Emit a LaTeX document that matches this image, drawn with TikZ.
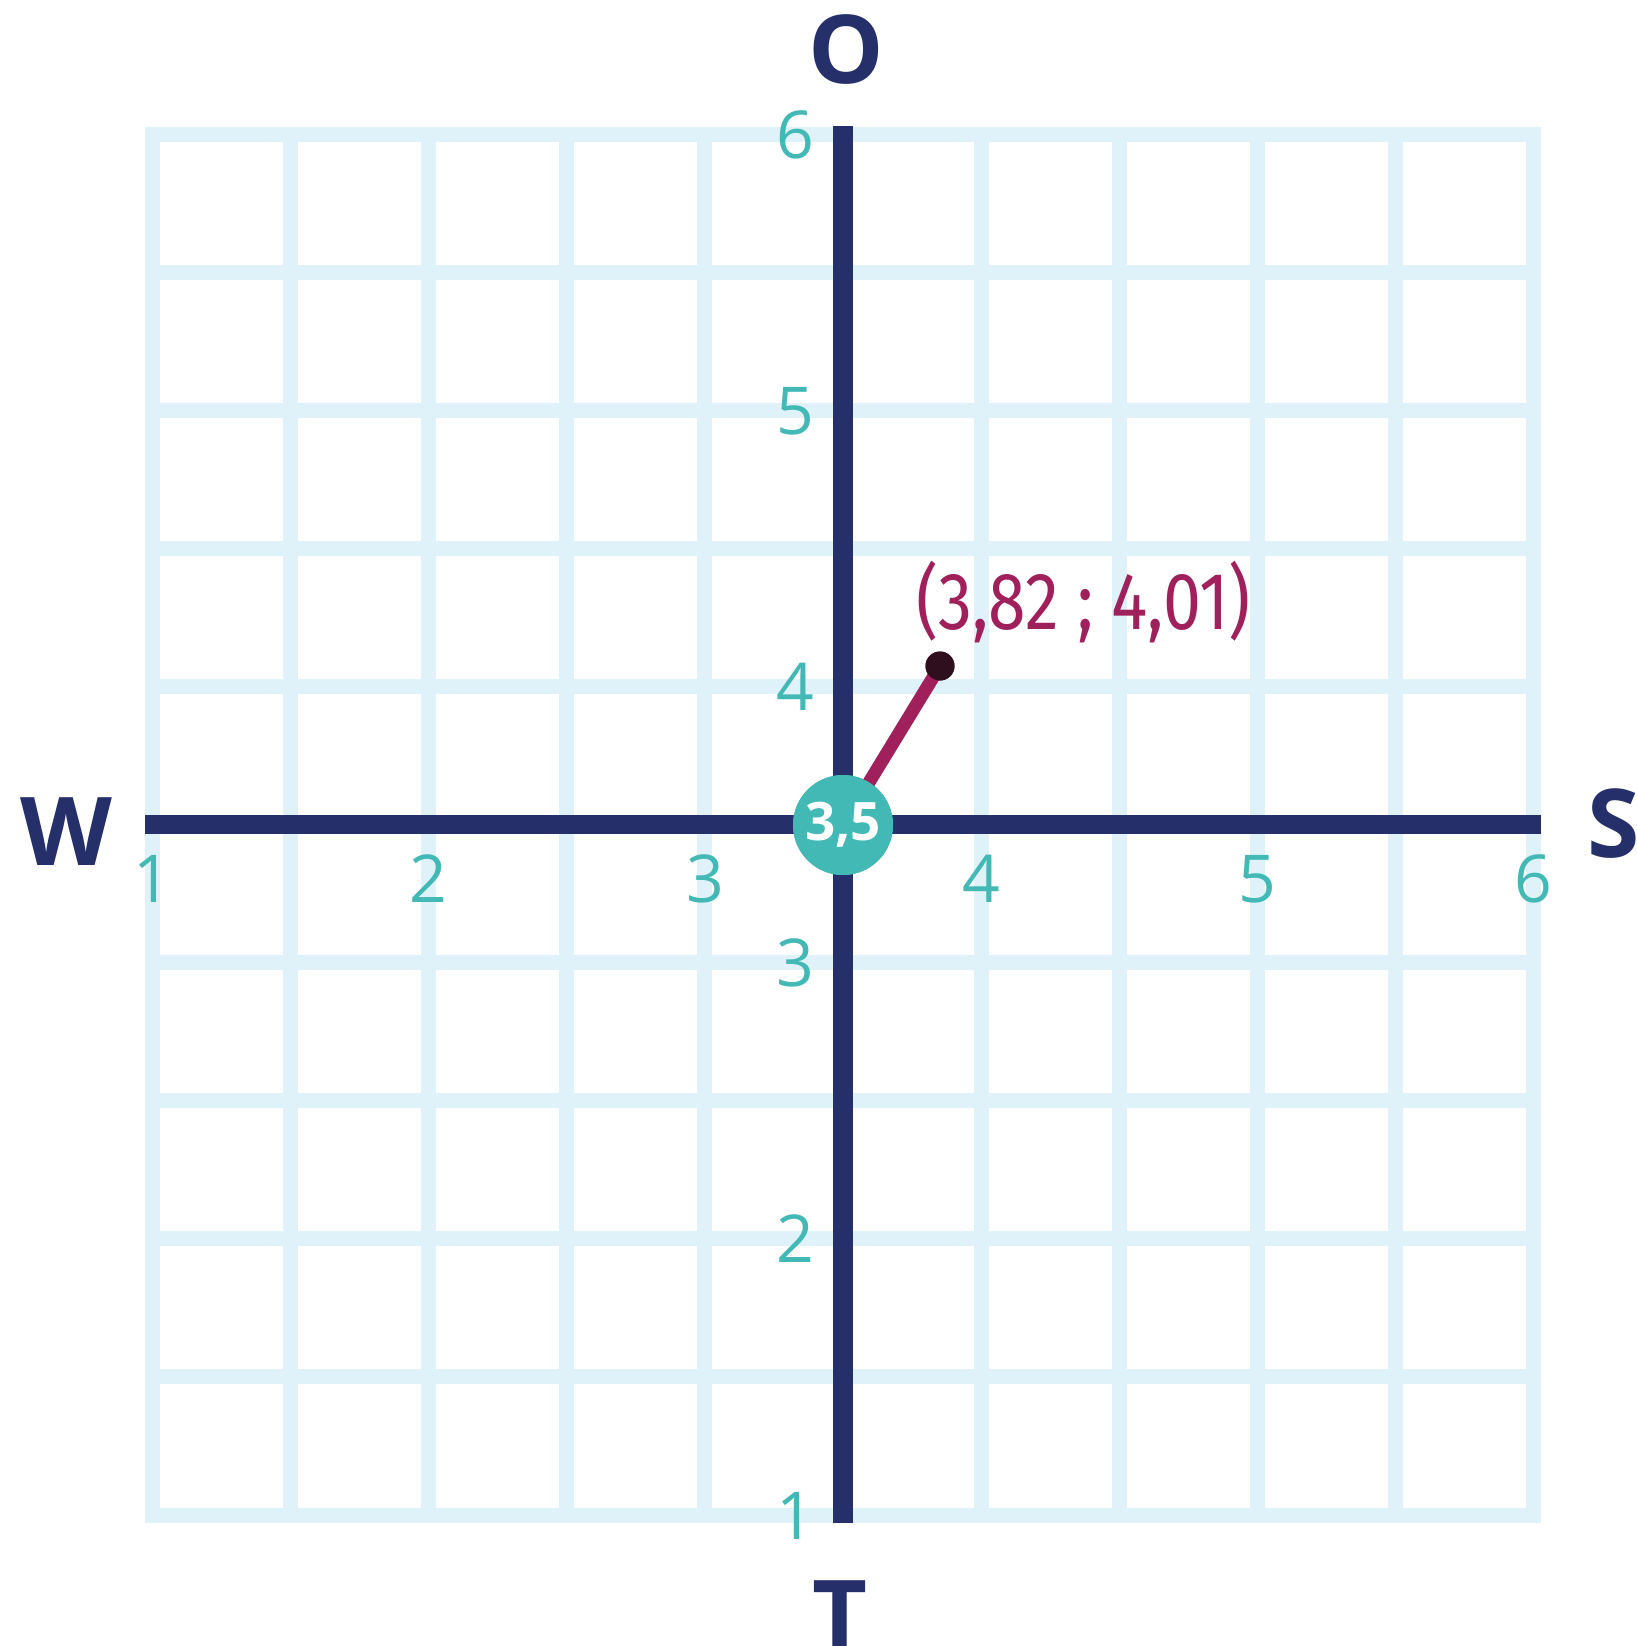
\documentclass[tikz,border=0pt]{standalone}
\usepackage{fontspec}
\setmainfont{Open Sans}
\newfontfamily\labfont[FakeStretch=0.84]{Fira Sans}
\definecolor{navy}{RGB}{37,48,106}
\definecolor{tealc}{RGB}{67,185,182}
\definecolor{gridc}{RGB}{223,242,249}
\definecolor{mag}{RGB}{160,32,92}
\definecolor{dotc}{RGB}{47,15,30}
\tikzset{
  gridline/.style={draw=gridc, line width=15pt},
  axis/.style={draw=navy, line width=19.5pt},
  tick/.style={text=tealc, font=\fontsize{66}{66}\selectfont, inner sep=0pt},
  dirlab/.style={text=navy, font=\fontsize{95}{95}\selectfont\bfseries, inner sep=0pt},
}
\begin{document}
\begin{tikzpicture}[x=1pt,y=-1pt]
\useasboundingbox[fill=white] (0,0) rectangle (1636,1646);
% grid
\foreach \i in {0,...,10}{
  \draw[gridline] ({152.5+138.1*\i},126.5) -- ({152.5+138.1*\i},1522.5);
  \draw[gridline] (145,{134+138.1*\i}) -- (1541,{134+138.1*\i});
}
% axes
\coordinate (wl) at (145,824.5);
\coordinate (sr) at (1541,824.5);
\coordinate (ot) at (843,126);
\coordinate (tb) at (843,1523);
\draw[axis] (wl) -- (sr);
\draw[axis] (ot) -- (tb);
% point
\node[circle, fill=dotc, minimum size=29pt, inner sep=0pt] (p) at (940,666) {};
\node[circle, fill=tealc, minimum size=100pt, inner sep=0pt] (c) at (843,825) {};
\draw[mag, line width=13pt] (c.center) -- (p.center);
\node[circle, fill=tealc, minimum size=100pt, inner sep=0pt, text=white,
      font=\fontsize{53}{53}\selectfont\bfseries] at (843,825) {3,5};
\node[circle, fill=dotc, minimum size=29pt, inner sep=0pt] at (940,666) {};
% coordinate label
\node[anchor=base west, inner sep=0pt, text=mag, font=\labfont\fontsize{81}{81}\selectfont] (lab) at (916,629) {(3,82 ; 4,01)};
% horizontal tick labels
\foreach \v [count=\k from 0] in {1,...,6}{
  \node[tick, anchor=base] (h\v) at ({152.5+276.2*\k},902) {\v};
}
% vertical tick labels
\foreach \v [count=\k from 0] in {6,5,...,1}{
  \node[tick, anchor=base east] (v\v) at (814,{134+276.2*\k+24}) {\v};
}
% direction labels
\node[dirlab, anchor=base] (O) at (846,83) {O};
\node[dirlab, anchor=base] (W) at (66,865) {W};
\node[dirlab, anchor=base west] (S) at (1587,857) {S};
\node[dirlab, anchor=north] (T) at (840,1580) {T};
\end{tikzpicture}
\end{document}
